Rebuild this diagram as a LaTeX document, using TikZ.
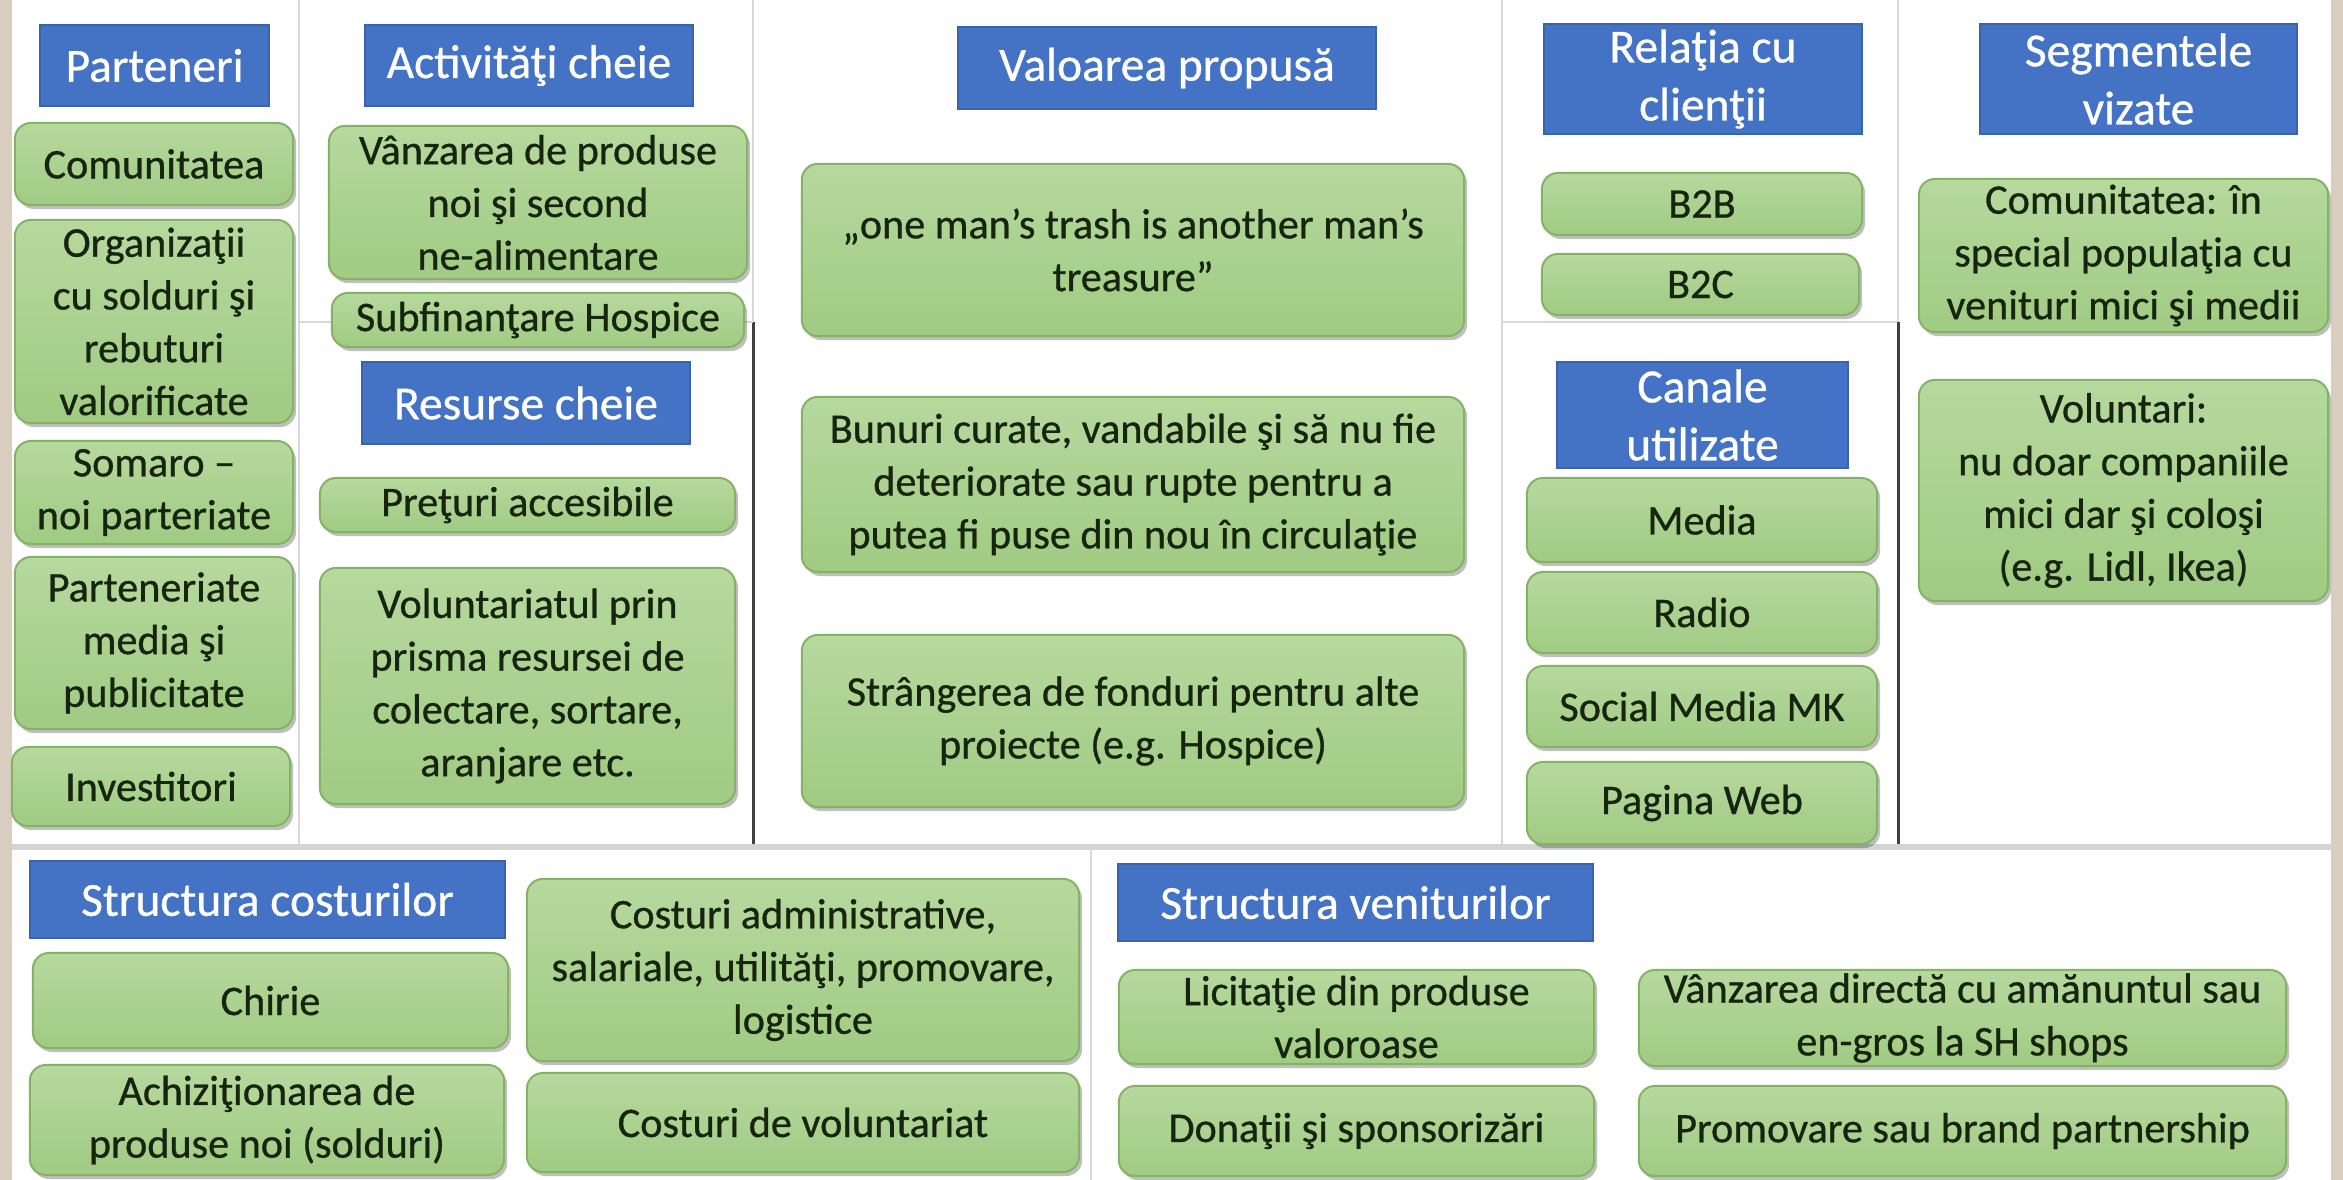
\documentclass[tikz,border=0pt]{standalone}
\usepackage{fontspec}
\setmainfont{Carlito}
\newfontfamily\boxfont{Carlito}[FakeBold=0.7]
\usetikzlibrary{shadows}
\definecolor{blueT}{HTML}{4472C4}
\definecolor{blueD}{HTML}{3A63AD}
\definecolor{greenTop}{HTML}{B6D99E}
\definecolor{greenBot}{HTML}{A0CB83}
\definecolor{greenDraw}{HTML}{86B267}
\definecolor{textDark}{HTML}{17240F}
\definecolor{lineLight}{HTML}{D9D9D9}
\definecolor{lineDark}{HTML}{3F3F3F}
\definecolor{sepGray}{HTML}{D4D4D4}
\definecolor{beigeBg}{HTML}{D8CDBF}
\newcommand\gbx[6]{%
  \pgfmathsetmacro\bxw{(#4-#2)*0.1}\pgfmathsetmacro\bxh{(#5-#3)*0.1}%
  \node[gbox, minimum width=\bxw mm, minimum height=\bxh mm] (#1) at ({(#2+#4)/2},{(#3+#5)/2}) {#6};}
\newcommand\tbx[6]{%
  \pgfmathsetmacro\bxw{(#4-#2)*0.1}\pgfmathsetmacro\bxh{(#5-#3)*0.1}%
  \node[tbox, minimum width=\bxw mm, minimum height=\bxh mm] (#1) at ({(#2+#4)/2},{(#3+#5)/2}) {#6};}
\begin{document}
\begin{tikzpicture}[x=0.01cm,y=-0.01cm,
  gbox/.style={draw=greenDraw, line width=0.2mm, rounded corners=1.6mm,
    top color=greenTop, bottom color=greenBot, inner sep=0pt, align=center,
    text=textDark, font=\boxfont\fontsize{12}{15}\selectfont,
    drop shadow={shadow xshift=0.3mm, shadow yshift=-0.4mm, opacity=0.25, fill=black}},
  tbox/.style={fill=blueT, draw=blueD, line width=0.15mm, inner sep=0pt,
    align=center, text=white, font=\boxfont\fontsize{13.5}{16.5}\selectfont},
  lightline/.style={draw=lineLight, line width=0.25mm},
  darkline/.style={draw=lineDark, line width=0.3mm},
  sepline/.style={draw=sepGray, line width=0.5mm}]
\useasboundingbox (0,0) rectangle (2343,1180);
\fill[beigeBg] (0,0) rectangle (2343,1180);
\fill[white] (12,0) rectangle (2331,1180);
% grid lines
\coordinate (v1t) at (299,0);   \coordinate (v1b) at (299,847);
\coordinate (v2t) at (753,0);   \coordinate (v2m) at (753,322); \coordinate (v2b) at (753,847);
\coordinate (h1l) at (299,322); \coordinate (h1r) at (753,322);
\coordinate (v3t) at (1502,0);  \coordinate (v3b) at (1502,847);
\coordinate (h2l) at (1502,322);\coordinate (h2r) at (1898,322);
\coordinate (v4t) at (1898,0);  \coordinate (v4m) at (1898,322); \coordinate (v4b) at (1898,847);
\coordinate (sl) at (12,847);   \coordinate (sr) at (2331,847);
\coordinate (v5t) at (1091,847);\coordinate (v5b) at (1091,1180);
\draw[lightline] (v1t) -- (v1b);
\draw[lightline] (v2t) -- (v2m);
\draw[darkline] (v2m) -- (v2b);
\draw[lightline] (h1l) -- (h1r);
\draw[lightline] (v3t) -- (v3b);
\draw[lightline] (h2l) -- (h2r);
\draw[lightline] (v4t) -- (v4m);
\draw[darkline] (v4m) -- (v4b);
\draw[lightline] (v5t) -- (v5b);
\draw[sepline] (sl) -- (sr);
% titles
\tbx{tPart}{40}{25}{269}{106}{Parteneri}
\tbx{tAct}{365}{25}{693}{106}{Activităţi cheie}
\tbx{tVal}{958}{27}{1376}{109}{Valoarea propusă}
\tbx{tRel}{1544}{24}{1862}{134}{Relaţia cu\\clienţii}
\tbx{tSeg}{1980}{24}{2297}{134}{Segmentele\\vizate}
\tbx{tRes}{362}{362}{690}{444}{Resurse cheie}
\tbx{tCan}{1557}{362}{1848}{468}{Canale\\utilizate}
\tbx{tCost}{30}{861}{505}{938}{Structura costurilor}
\tbx{tVen}{1118}{864}{1593}{941}{Structura veniturilor}
% Parteneri
\gbx{p1}{15}{123}{293}{205}{Comunitatea}
\gbx{p2}{15}{220}{293}{423}{Organizaţii\\cu solduri şi\\rebuturi\\valorificate}
\gbx{p3}{15}{441}{293}{544}{Somaro –\\noi parteriate}
\gbx{p4}{15}{557}{293}{729}{Parteneriate\\media şi\\publicitate}
\gbx{p5}{12}{747}{290}{826}{Investitori}
% Activitati / Resurse
\gbx{a1}{329}{126}{747}{279}{Vânzarea de produse\\noi şi second\\ne-alimentare}
\gbx{a2}{332}{293}{744}{347}{Subfinanţare Hospice}
\gbx{r1}{320}{478}{735}{532}{Preţuri accesibile}
\gbx{r2}{320}{568}{735}{804}{Voluntariatul prin\\prisma resursei de\\colectare, sortare,\\aranjare etc.}
% Valoarea
\gbx{v1}{802}{164}{1464}{336}{„one man’s trash is another man’s\\treasure”}
\gbx{v2}{802}{397}{1464}{572}{Bunuri curate, vandabile şi să nu fie\\deteriorate sau rupte pentru a\\putea fi puse din nou în circulaţie}
\gbx{v3}{802}{635}{1464}{807}{Strângerea de fonduri pentru alte\\proiecte (e.g. Hospice)}
% Relatia
\gbx{c1}{1542}{173}{1862}{235}{B2B}
\gbx{c2}{1542}{254}{1859}{315}{B2C}
% Canale
\gbx{k1}{1527}{478}{1877}{562}{Media}
\gbx{k2}{1527}{572}{1877}{653}{Radio}
\gbx{k3}{1527}{666}{1877}{747}{Social Media MK}
\gbx{k4}{1527}{762}{1877}{844}{Pagina Web}
% Segmentele
\gbx{s1}{1919}{179}{2328}{332}{Comunitatea: în\\special populaţia cu\\venituri mici şi medii}
\gbx{s2}{1919}{380}{2328}{601}{Voluntari:\\nu doar companiile\\mici dar şi coloşi\\(e.g. Lidl, Ikea)}
% Costuri
\gbx{o1}{33}{953}{508}{1048}{Chirie}
\gbx{o2}{30}{1065}{504}{1175}{Achiziţionarea de\\produse noi (solduri)}
\gbx{o3}{527}{879}{1079}{1061}{Costuri administrative,\\salariale, utilităţi, promovare,\\logistice}
\gbx{o4}{527}{1073}{1079}{1172}{Costuri de voluntariat}
% Venituri
\gbx{e1}{1119}{970}{1594}{1064}{Licitaţie din produse\\valoroase}
\gbx{e2}{1119}{1086}{1594}{1176}{Donaţii şi sponsorizări}
\gbx{e3}{1639}{970}{2286}{1066}{Vânzarea directă cu amănuntul sau\\en-gros la SH shops}
\gbx{e4}{1639}{1086}{2286}{1176}{Promovare sau brand partnership}
\end{tikzpicture}
\end{document}
